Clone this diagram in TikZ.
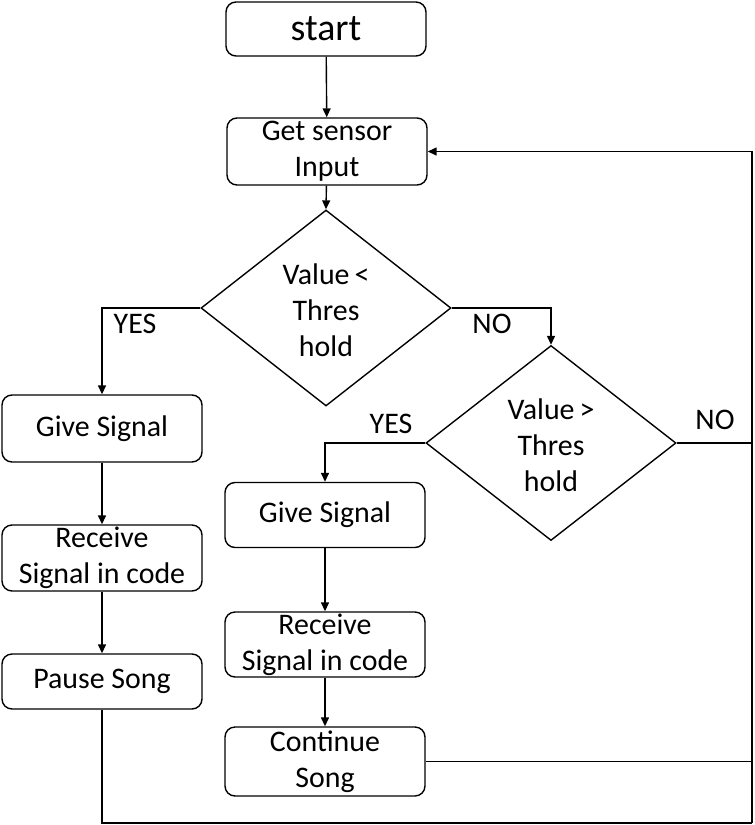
\documentclass[tikz,border=0pt]{standalone}
\usepackage{fontspec}
\setmainfont{Carlito}
\usetikzlibrary{arrows.meta,shapes.geometric}
\begin{document}
\begin{tikzpicture}[x=1bp,y=-1bp,
  every node/.style={font=\fontsize{30}{36}\selectfont},
  box/.style={draw,line width=1.4pt,rounded corners=10bp,minimum width=200bp,align=center,inner sep=0pt},
  dia/.style={draw,line width=1.4pt,diamond,minimum width=250bp,minimum height=196bp,inner sep=0pt},
  txt/.style={align=center,inner sep=0pt},
  lbl/.style={inner sep=0pt},
  arr/.style={line width=1.4pt,-{Triangle[length=9pt,width=8pt]}},
  ln/.style={line width=1.4pt}]
\useasboundingbox (0,0) rectangle (755,825);
\node[box,minimum height=54bp,font=\fontsize{38}{44}\selectfont] (start) at (326,29) {start};
\node[box,minimum height=67bp] (get) at (327,151.5) {Get sensor\\Input};
\node[dia] (d1) at (326,308) {};
\node[txt] at ([yshift=-2bp]d1.center) {Value\,<\\Thres\\hold};
\node[dia,minimum height=195bp] (d2) at (551,443) {};
\node[txt] at ([yshift=-2bp]d2.center) {Value\,>\\Thres\\hold};
\node[box,minimum height=67bp] (g1) at (102,428.5) {Give Signal};
\node[box,minimum height=66bp] (r1) at (102,558) {Receive\\Signal in code};
\node[box,minimum height=55bp] (p1) at (102,681.5) {Pause Song};
\node[box,minimum height=65bp] (g2) at (325,515) {Give Signal};
\node[box,minimum height=65bp] (r2) at (325,644.5) {Receive\\Signal in code};
\node[box,minimum height=69bp] (c2) at (325,761.5) {Continue\\Song};
\node[lbl] (yes1) at (135,324) {YES};
\node[lbl] (no1) at (492,324) {NO};
\node[lbl] (yes2) at (391,424) {YES};
\node[lbl] (no2) at (715,420) {NO};
\coordinate (br) at (752,823);
\draw[arr] (start) -- (get);
\draw[arr] (get) -- (d1.north);
\draw[arr] (d1.west) -| (g1.north);
\draw[arr] (d1.east) -| (d2.north);
\draw[arr] (d2.west) -| (g2.north);
\draw[arr] (g1) -- (r1);
\draw[arr] (r1) -- (p1);
\draw[arr] (g2) -- (r2);
\draw[arr] (r2) -- (c2);
\draw[ln] (p1.south) |- (br);
\draw[arr] (br) |- (get.east);
\draw[ln] (d2.east) -- (d2.east -| br);
\draw[ln] (c2.east) -- (c2.east -| br);
\end{tikzpicture}
\end{document}
